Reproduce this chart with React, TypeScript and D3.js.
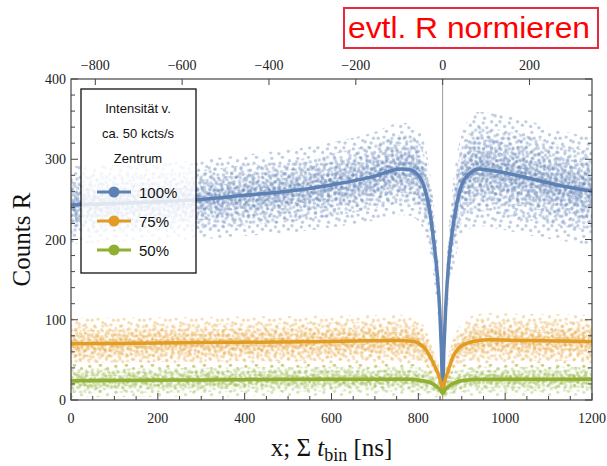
import React from 'react';
import * as d3 from 'd3';

// ---- data ----
const dipCenter = 856;

const blueT = [0, 100, 200, 300, 400, 500, 600, 700, 760, 780, 800, 815, 825, 835, 843, 849, 853, 856, 859, 863, 869, 877, 887, 900, 920, 940, 980, 1050, 1120, 1200];
const blueFit = [243, 245, 247, 250, 255, 260, 268, 279, 288, 287, 280, 263, 240, 200, 160, 115, 65, 15, 65, 115, 165, 205, 240, 268, 283, 288, 285, 277, 268, 260];
const blueSpread = [42, 42, 42, 43, 44, 45, 46, 48, 50, 50, 50, 48, 45, 42, 38, 32, 26, 18, 26, 32, 38, 45, 52, 56, 60, 62, 62, 62, 60, 58];

const orangeT = [0, 200, 400, 600, 750, 790, 805, 817, 827, 838, 846, 851, 856, 861, 866, 872, 880, 892, 905, 925, 960, 1050, 1200];
const orangeFit = [70, 71, 72, 73, 74, 73, 69, 63, 54, 42, 32, 24, 14, 24, 32, 42, 54, 64, 69, 73, 75, 74, 73];
const orangeSpread = [28, 28, 28, 28, 28, 27, 25, 22, 20, 17, 14, 11, 9, 11, 14, 17, 20, 22, 25, 28, 29, 29, 29];

const greenT = [0, 300, 600, 780, 810, 830, 842, 850, 856, 862, 870, 882, 900, 940, 1000, 1200];
const greenFit = [24, 25, 26, 26, 24, 21, 17, 13, 8, 13, 17, 21, 24, 26, 26, 26];
const greenSpread = [18, 18, 18, 18, 16, 14, 12, 9, 7, 9, 12, 14, 16, 18, 18, 18];

const seriesNames = ['100%', '75%', '50%'];
const legendTitle = ['Intensität v.', 'ca. 50 kcts/s', 'Zentrum'];

const xTickValues = [0, 200, 400, 600, 800, 1000, 1200];
const topTickValues = [-800, -600, -400, -200, 0, 200];
const yTickValues = [0, 100, 200, 300, 400];

// ---- styles ----
const W = 607, H = 466;
const M = { l: 71, r: 592, t: 79, b: 400 };
const COLORS = ['#5E81B5', '#E19C24', '#8FB032'];
const DOT_COLORS = ['#5E81B5', '#E6A43A', '#93B43C'];
const DOT_OPACITY = [0.38, 0.36, 0.36];
// texture used to render the scatter clouds (a style, not data)
const TEXTURE = [[3, 4], [10, 2], [17, 6], [6, 11], [14, 12], [20, 15], [2, 18], [9, 19], [16, 20], [12, 7], [19, 1], [5, 15], [21, 9], [13, 16], [8, 7], [1, 10]];
const LAYERS = [
  { f: 1.15, tile: 26, tr: 'translate(0,0) rotate(0)' },
  { f: 0.85, tile: 22, tr: 'translate(7,11) rotate(37)' },
  { f: 0.6, tile: 20, tr: 'translate(13,5) rotate(71)' },
  { f: 0.38, tile: 19, tr: 'translate(4,9) rotate(113)' },
  { f: 0.18, tile: 18, tr: 'translate(9,2) rotate(151)' },
];

export default function App() {
  const x = d3.scaleLinear().domain([0, 1200]).range([M.l, M.r]);
  const xTop = d3.scaleLinear().domain([0 - dipCenter, 1200 - dipCenter]).range([M.l, M.r]);
  const y = d3.scaleLinear().domain([0, 400]).range([M.b, M.t]);

  const series = [
    { t: blueT, v: blueFit, s: blueSpread },
    { t: orangeT, v: orangeFit, s: orangeSpread },
    { t: greenT, v: greenFit, s: greenSpread },
  ].map((S, i) => ({
    name: seriesNames[i],
    color: COLORS[i],
    dot: DOT_COLORS[i],
    pts: S.t.map((t, k) => ({ t, v: S.v[k], s: S.s[k] })),
  }));

  const line = d3.line<any>().x(d => x(d.t)).y(d => y(d.v)).curve(d3.curveMonotoneX);
  const area = (f: number) =>
    d3.area<any>().x(d => x(d.t)).y0(d => y(d.v - d.s * f)).y1(d => y(d.v + d.s * f)).curve(d3.curveMonotoneX);

  const xMinor = x.ticks(24);
  const yMinor = y.ticks(20);
  const serif = '"Liberation Serif", "DejaVu Serif", serif';
  const sans = '"Liberation Sans", Arial, sans-serif';
  const axisColor = '#444';

  return (
    <svg width={W} height={H} style={{ position: 'absolute', left: 0, top: 0 }}>
      <defs>
        <clipPath id="plotclip">
          <rect x={M.l} y={M.t} width={M.r - M.l} height={M.b - M.t} />
        </clipPath>
        {series.map((S, i) =>
          LAYERS.map((L, l) => (
            <pattern key={`${i}-${l}`} id={`p-${i}-${l}`} patternUnits="userSpaceOnUse" width={L.tile} height={L.tile} patternTransform={L.tr}>
              {TEXTURE.map(([cx, cy], k) => (
                <circle key={k} cx={(cx * L.tile) / 22} cy={(cy * L.tile) / 22} r={1.7} fill={S.dot} fillOpacity={DOT_OPACITY[i]} />
              ))}
            </pattern>
          ))
        )}
      </defs>
      <rect x={0} y={0} width={W} height={H} fill="#fff" />

      {/* red note */}
      <rect x={344} y={8} width={254} height={40} fill="none" stroke="#E8293F" strokeWidth={2} />
      <text x={348} y={38} fontFamily={sans} fontSize={29} fill="#FF0000" textLength={242} lengthAdjust="spacingAndGlyphs">evtl. R normieren</text>

      {/* vertical center line */}
      <line x1={x(dipCenter)} x2={x(dipCenter)} y1={M.t} y2={M.b} stroke="#999" strokeWidth={1} />

      <g clipPath="url(#plotclip)">
        {series.map((S, i) =>
          LAYERS.map((L, l) => (
            <path key={`a${i}-${l}`} d={area(L.f)(S.pts) || ''} fill={`url(#p-${i}-${l})`} />
          ))
        )}
        {series.map((S, i) => (
          <path key={`l${i}`} d={line(S.pts) || ''} fill="none" stroke={S.color} strokeWidth={3.5} />
        ))}
      </g>

      {/* frame */}
      <rect x={M.l} y={M.t} width={M.r - M.l} height={M.b - M.t} fill="none" stroke={axisColor} strokeWidth={1.2} />

      {/* bottom ticks */}
      {xMinor.map(v => {
        const major = xTickValues.includes(v);
        return <line key={`bx${v}`} x1={x(v)} x2={x(v)} y1={M.b} y2={M.b - (major ? 7 : 4)} stroke={axisColor} strokeWidth={1} />;
      })}
      {xTickValues.map(v => (
        <text key={`bl${v}`} x={x(v)} y={423} textAnchor="middle" fontFamily={serif} fontSize={14} fill="#222">{v}</text>
      ))}
      {/* top ticks */}
      {topTickValues.map(v => (
        <line key={`tx${v}`} x1={xTop(v)} x2={xTop(v)} y1={M.t} y2={M.t + 6} stroke={axisColor} strokeWidth={1} />
      ))}
      {topTickValues.map(v => (
        <text key={`tl${v}`} x={xTop(v)} y={70} textAnchor="middle" fontFamily={serif} fontSize={14} fill="#222">{v < 0 ? `\u2212${-v}` : v}</text>
      ))}
      {/* left/right ticks */}
      {yMinor.map(v => {
        const major = yTickValues.includes(v);
        const len = major ? 7 : 4;
        return (
          <g key={`y${v}`}>
            <line x1={M.l} x2={M.l + len} y1={y(v)} y2={y(v)} stroke={axisColor} strokeWidth={1} />
            <line x1={M.r} x2={M.r - len} y1={y(v)} y2={y(v)} stroke={axisColor} strokeWidth={1} />
          </g>
        );
      })}
      {yTickValues.map(v => (
        <text key={`yl${v}`} x={66} y={y(v) + 5} textAnchor="end" fontFamily={serif} fontSize={14} fill="#222">{v}</text>
      ))}

      {/* axis titles */}
      <text transform={`translate(30,${(M.t + M.b) / 2}) rotate(-90)`} textAnchor="middle" fontFamily={serif} fontSize={25} fill="#111">Counts R</text>
      <text x={(M.l + M.r) / 2} y={456} textAnchor="middle" fontFamily={serif} fontSize={25} fill="#111">
        x; Σ <tspan fontStyle="italic">t</tspan><tspan fontSize={18} dy={5}>bin</tspan><tspan dy={-5}> [ns]</tspan>
      </text>

      {/* legend */}
      <rect x={81} y={89} width={115} height={184} fill="#fff" fillOpacity={0.8} stroke="#111" strokeWidth={1.3} />
      {legendTitle.map((s, k) => (
        <text key={`lt${k}`} x={138} y={113 + k * 25} textAnchor="middle" fontFamily={sans} fontSize={13} fill="#111">{s}</text>
      ))}
      {series.map((S, i) => (
        <g key={`lg${i}`}>
          <line x1={97} x2={131} y1={192 + i * 29} y2={192 + i * 29} stroke={S.color} strokeWidth={3} />
          <circle cx={114} cy={192 + i * 29} r={5.5} fill={S.color} />
          <text x={139} y={197.5 + i * 29} fontFamily={sans} fontSize={15} fill="#111">{S.name}</text>
        </g>
      ))}
    </svg>
  );
}
